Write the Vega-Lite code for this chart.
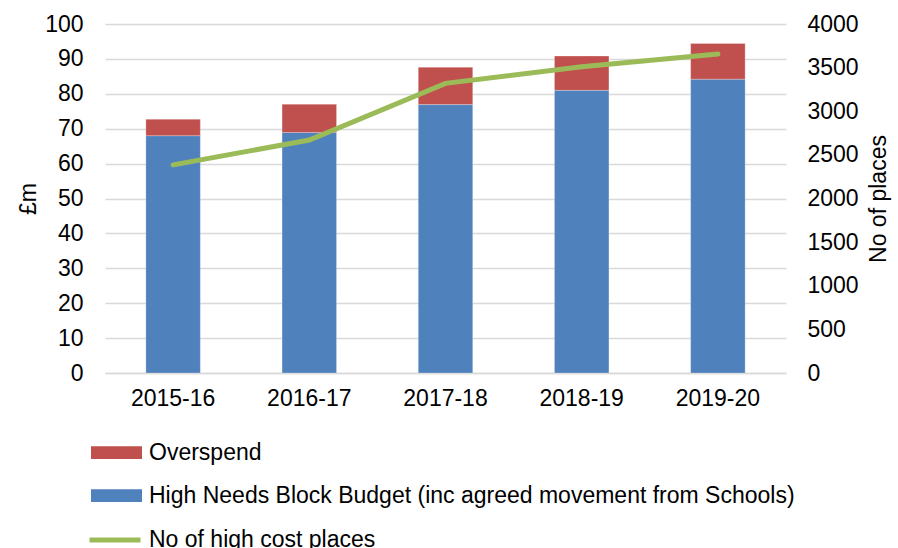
{
  "$schema": "https://vega.github.io/schema/vega-lite/v6.json",
  "autosize": {"type": "none"},
  "padding": {"left": 105, "top": 24, "right": 112, "bottom": 175},
  "width": 681,
  "height": 349,
  "background": "white",
  "config": {
    "font": "Liberation Sans",
    "view": {"stroke": null}
  },
  "data": {
    "values": [
      {"year": "2015-16", "budget": 68.0, "overspend": 4.7, "places": 2385},
      {"year": "2016-17", "budget": 68.9, "overspend": 8.1, "places": 2670},
      {"year": "2017-18", "budget": 76.9, "overspend": 10.7, "places": 3320},
      {"year": "2018-19", "budget": 81.0, "overspend": 9.8, "places": 3510},
      {"year": "2019-20", "budget": 84.2, "overspend": 10.2, "places": 3655}
    ]
  },
  "encoding": {
    "x": {
      "field": "year", "type": "nominal", "title": null,
      "scale": {"paddingInner": 0.6, "paddingOuter": 0.3},
      "axis": {"labelAngle": 0, "ticks": false, "domainColor": "#d9d9d9", "domainWidth": 1.5, "labelPadding": 14, "labelFont": "Liberation Sans", "labelFontSize": 23, "labelColor": "#000"}
    }
  },
  "layer": [
    {
      "transform": [
        {"fold": ["budget", "overspend"], "as": ["key", "val"]},
        {"calculate": "datum.key === 'budget' ? 'High Needs Block Budget (inc agreed movement from Schools)' : 'Overspend'", "as": "series"}
      ],
      "mark": {"type": "bar", "stroke": "white", "strokeOpacity": 0.5, "strokeWidth": 0.5},
      "encoding": {
        "y": {
          "field": "val", "type": "quantitative", "stack": "zero",
          "title": "£m",
          "scale": {"domain": [0, 100]},
          "axis": {"values": [0,10,20,30,40,50,60,70,80,90,100], "grid": true, "gridColor": "#d9d9d9", "gridWidth": 1.5, "domain": false, "ticks": false, "labelPadding": 22, "titlePadding": 4, "labelFont": "Liberation Sans", "labelFontSize": 23, "labelColor": "#000", "titleFont": "Liberation Sans", "titleFontSize": 23, "titleFontWeight": "normal", "titleColor": "#000"}
        },
        "color": {
          "field": "series", "type": "nominal",
          "scale": {"domain": ["Overspend", "High Needs Block Budget (inc agreed movement from Schools)"], "range": ["#c0504d", "#4f81bd"]},
          "legend": {"title": null, "orient": "none", "legendX": -14, "legendY": 403, "symbolType": "M-1,-0.25H1V0.25H-1Z", "symbolSize": 2601, "symbolStrokeWidth": 0, "symbolOpacity": 1, "rowPadding": 5, "labelOffset": 7, "labelLimit": 900, "labelFont": "Liberation Sans", "labelFontSize": 23, "labelColor": "#000"}
        },
        "order": {"field": "series", "type": "nominal", "sort": "ascending"}
      }
    },
    {
      "mark": {"type": "line", "strokeWidth": 5, "strokeCap": "round"},
      "encoding": {
        "y": {
          "field": "places", "type": "quantitative",
          "title": "No of places",
          "scale": {"domain": [0, 4000]},
          "axis": {"orient": "right", "values": [0,500,1000,1500,2000,2500,3000,3500,4000], "format": "d", "grid": false, "domain": false, "ticks": false, "labelPadding": 21, "titlePadding": 9, "titleAngle": 270, "titleBaseline": "top", "labelFont": "Liberation Sans", "labelFontSize": 23, "labelColor": "#000", "titleFont": "Liberation Sans", "titleFontSize": 23, "titleFontWeight": "normal", "titleColor": "#000"}
        },
        "stroke": {
          "datum": "No of high cost places", "type": "nominal",
          "scale": {"range": ["#9bbb59"]},
          "legend": {"title": null, "orient": "none", "legendX": -18, "legendY": 488, "symbolType": "stroke", "symbolSize": 2601, "symbolStrokeWidth": 5, "labelOffset": 6, "labelLimit": 900, "labelFont": "Liberation Sans", "labelFontSize": 23, "labelColor": "#000"}
        }
      }
    }
  ],
  "resolve": {"scale": {"y": "independent"}}
}
